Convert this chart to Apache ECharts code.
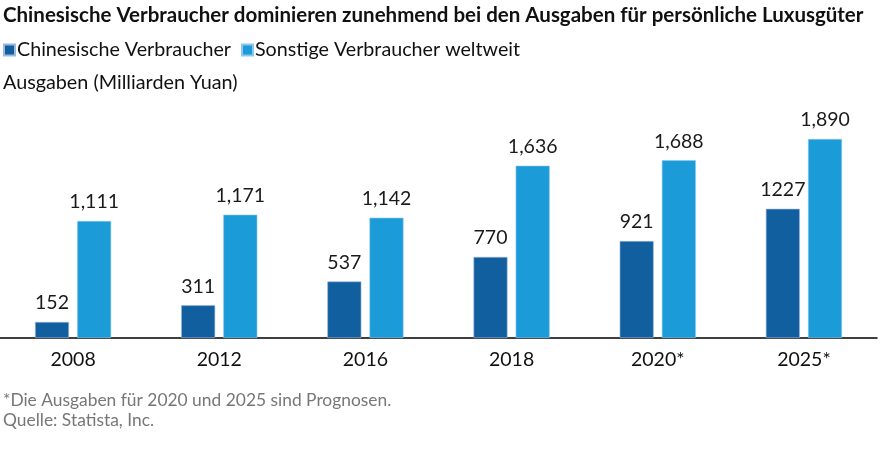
<!DOCTYPE html>
<html><head><meta charset="utf-8">
<script src="https://cdn.jsdelivr.net/npm/echarts@6/dist/echarts.min.js"></script>
<style>html,body{margin:0;padding:0;background:#fff}#c{width:881px;height:475px}</style>
</head><body><div id="c"></div>
<script>
const categories = ['2008','2012','2016','2018','2020*','2025*'];
const chinese = [152, 311, 537, 770, 921, 1227];
const others = [1111, 1171, 1142, 1636, 1688, 1890];
const seriesNames = ['Chinesische Verbraucher','Sonstige Verbraucher weltweit'];
const titleText = 'Chinesische Verbraucher dominieren zunehmend bei den Ausgaben für persönliche Luxusgüter';
const yLabel = 'Ausgaben (Milliarden Yuan)';
const notes = ['*Die Ausgaben für 2020 und 2025 sind Prognosen.', 'Quelle: Statista, Inc.'];

const FONT = 'Lato, "Open Sans", sans-serif';
const chart = echarts.init(document.getElementById('c'));
chart.setOption({
  animation: false,
  textStyle: {fontFamily: FONT},
  title: [
    {text: titleText, left: -2, top: 0, textStyle: {fontSize: 20.5, fontWeight: 'bold', color: '#111', fontFamily: FONT}},
    {text: yLabel, left: -2, top: 68, textStyle: {fontSize: 19.8, fontWeight: 'normal', color: '#111', fontFamily: FONT}},
    {text: notes.join('\n'), left: -2, top: 385, textStyle: {fontSize: 17.4, fontWeight: 'normal', color: '#777', lineHeight: 20, fontFamily: FONT}}
  ],
  legend: {
    left: -2, top: 35, itemWidth: 11, itemHeight: 11, itemGap: 10,
    icon: 'rect',
    textStyle: {fontSize: 19.7, color: '#111', padding: [0,0,0,-3]},
    data: seriesNames
  },
  grid: {left: 0, right: 4, top: 127.4, bottom: 137, containLabel: false},
  xAxis: {
    type: 'category', data: categories,
    axisLine: {lineStyle: {color: '#000', width: 1.5}},
    axisTick: {show: false},
    axisLabel: {fontSize: 19.5, color: '#111', margin: 12}
  },
  yAxis: {type: 'value', min: 0, max: 2000, show: false, splitLine: {show: false}},
  series: [
    {name: seriesNames[0], type: 'bar', data: chinese, barWidth: 34, barGap: '24%',
     itemStyle: {color: '#125fa0', borderColor: '#9fb8e0', borderWidth: 0.6},
     label: {show: true, position: 'top', distance: 9, fontSize: 19.5, color: '#1a1a1a',
       formatter: p => String(p.value)}},
    {name: seriesNames[1], type: 'bar', data: others, barWidth: 34,
     itemStyle: {color: '#1b9bd7', borderColor: '#8cc8ee', borderWidth: 0.6},
     label: {show: true, position: 'top', distance: 9, fontSize: 19.5, color: '#1a1a1a',
       formatter: p => p.value.toLocaleString('en-US')}}
  ]
});
</script></body></html>
